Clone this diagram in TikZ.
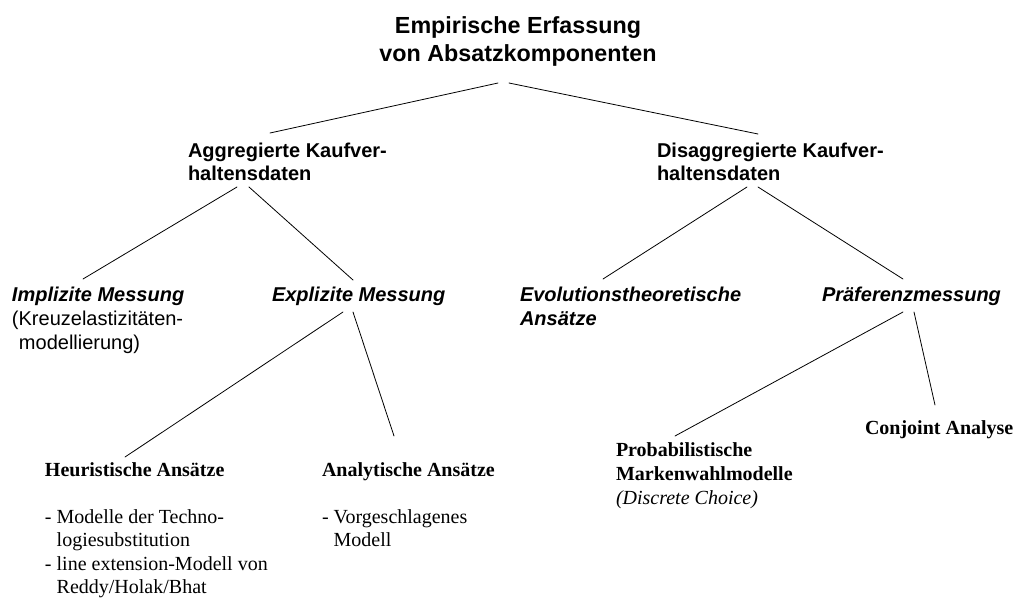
\documentclass[tikz,border=0pt]{standalone}
\usepackage{fontspec}
\setmainfont{Liberation Serif}
\setsansfont{Liberation Sans}
\newcommand\lstack[2]{\vtop{\baselineskip=#1\lineskiplimit=-30pt\halign{##\hfil\cr#2\crcr}}}
\newcommand\cstack[2]{\vtop{\baselineskip=#1\lineskiplimit=-30pt\halign{\hfil##\hfil\cr#2\crcr}}}
\tikzset{
  lbl/.style={inner sep=0pt, outer sep=0pt, anchor=base west},
  conn/.style={draw, line width=0.8pt, line cap=round},
  lvltitle/.style={font=\sffamily\bfseries\fontsize{23.3}{28}\selectfont},
  lvltwo/.style={font=\sffamily\bfseries\fontsize{20}{23}\selectfont},
  lvlthree/.style={font=\sffamily\fontsize{20}{24}\selectfont},
  lvlfour/.style={font=\rmfamily\fontsize{20}{24}\selectfont}
}
\begin{document}
\begin{tikzpicture}[x=1pt,y=-1pt]
\fill[white] (0,0) rectangle (1018,600);
\useasboundingbox (0,0) rectangle (1018,600);

\node[inner sep=0pt, anchor=base, lvltitle] (title) at (518,33)
  {\cstack{28pt}{Empirische Erfassung\cr von Absatzkomponenten}};

\node[lbl, lvltwo] (agg) at (188,157) {\lstack{23pt}{Aggregierte Kaufver-\cr haltensdaten}};
\node[lbl, lvltwo] (dis) at (657,157) {\lstack{23pt}{Disaggregierte Kaufver-\cr haltensdaten}};

\node[lbl, lvlthree] (imp) at (12,301) {\lstack{24pt}{\textbf{\textit{Implizite Messung}}\cr (Kreuzelastizitäten-\cr \hskip7pt modellierung)}};
\node[lbl, lvlthree] (exp) at (272,301) {\textbf{\textit{Explizite Messung}}};
\node[lbl, lvlthree] (evo) at (520,301) {\lstack{24pt}{\textbf{\textit{Evolutionstheoretische}}\cr \textbf{\textit{Ansätze}}}};
\node[lbl, lvlthree] (pra) at (822,301) {\textbf{\textit{Präferenzmessung}}};

\node[lbl, lvlfour] (heu) at (45,476) {\lstack{23.5pt}{\textbf{Heuristische Ansätze}\cr \strut\cr - Modelle der Techno-\cr \hskip11.7pt logiesubstitution\cr - line extension-Modell von\cr \hskip11.7pt Reddy/Holak/Bhat}};
\node[lbl, lvlfour] (ana) at (322,476) {\lstack{23.5pt}{\textbf{Analytische Ansätze}\cr \strut\cr - Vorgeschlagenes\cr \hskip11.7pt Modell}};
\node[lbl, lvlfour] (prob) at (616,456) {\lstack{24pt}{\textbf{Probabilistische}\cr \textbf{Markenwahlmodelle}\cr \textit{(Discrete Choice)}}};
\node[lbl, lvlfour] (conj) at (865,434) {\textbf{Conjoint Analyse}};

\draw[conn] ([xshift=-20pt,yshift=-50pt]title.base) -- ([xshift=82pt,yshift=24pt]agg.base west);
\draw[conn] ([xshift=-9pt,yshift=-50pt]title.base) -- ([xshift=101pt,yshift=23pt]dis.base west);

\draw[conn] ([xshift=49pt,yshift=-30pt]agg.base west) -- ([xshift=71pt,yshift=22pt]imp.base west);
\draw[conn] ([xshift=61pt,yshift=-30pt]agg.base west) -- ([xshift=81pt,yshift=21pt]exp.base west);

\draw[conn] ([xshift=90pt,yshift=-30pt]dis.base west) -- ([xshift=83pt,yshift=22pt]evo.base west);
\draw[conn] ([xshift=101pt,yshift=-30pt]dis.base west) -- ([xshift=81pt,yshift=22pt]pra.base west);

\draw[conn] ([xshift=71pt,yshift=-11pt]exp.base west) -- ([xshift=80pt,yshift=19pt]heu.base west);
\draw[conn] ([xshift=81pt,yshift=-11pt]exp.base west) -- ([xshift=72pt,yshift=40pt]ana.base west);

\draw[conn] ([xshift=81pt,yshift=-11pt]pra.base west) -- ([xshift=59pt,yshift=20pt]prob.base west);
\draw[conn] ([xshift=92pt,yshift=-11pt]pra.base west) -- ([xshift=70pt,yshift=29pt]conj.base west);
\end{tikzpicture}
\end{document}
